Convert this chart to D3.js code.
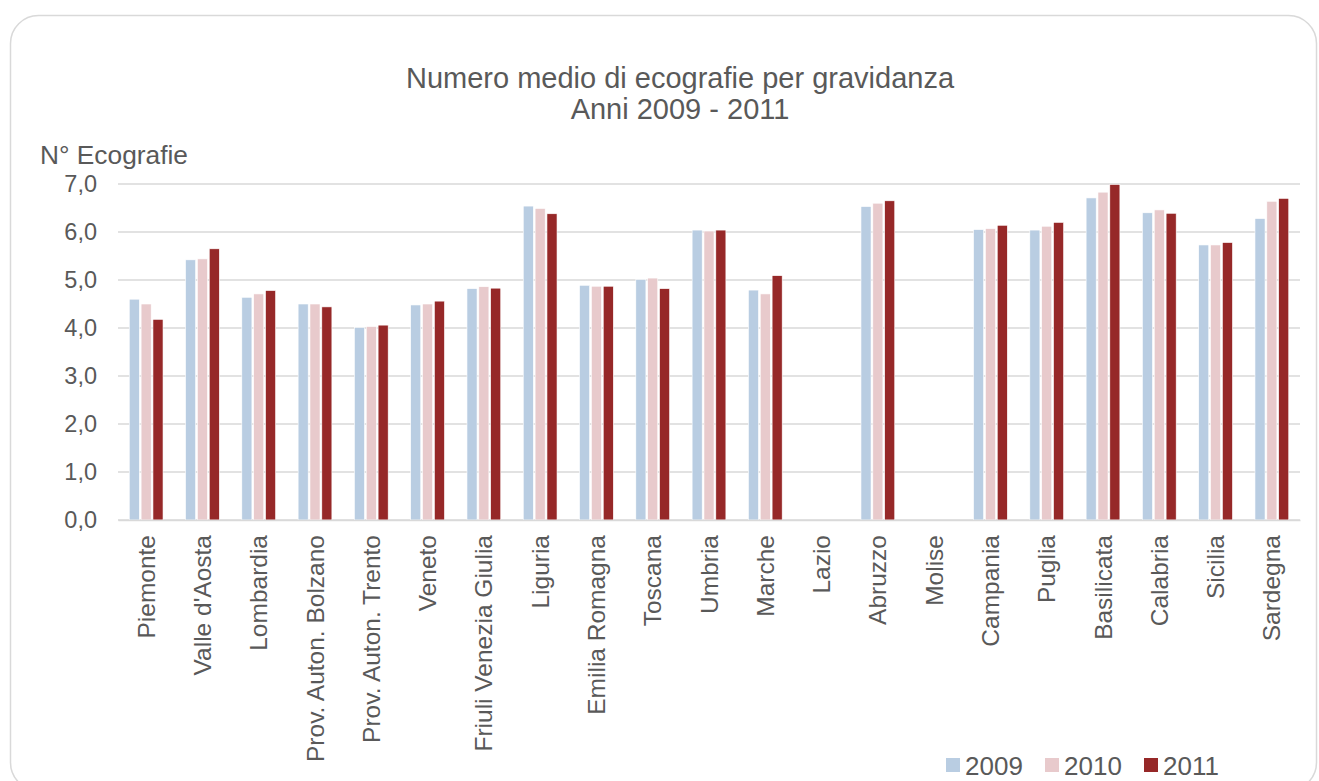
<!DOCTYPE html>
<html>
<head>
<meta charset="utf-8">
<script src="https://cdn.jsdelivr.net/npm/d3@7"></script>
<style>
  body { margin: 0; background: #fff; }
  text { font-family: "Liberation Sans", Arial, sans-serif; fill: #595959; }
</style>
</head>
<body>
<div id="chart"></div>
<script>
var regions = ["Piemonte", "Valle d'Aosta", "Lombardia", "Prov. Auton. Bolzano", "Prov. Auton. Trento",
  "Veneto", "Friuli Venezia Giulia", "Liguria", "Emilia Romagna", "Toscana", "Umbria", "Marche",
  "Lazio", "Abruzzo", "Molise", "Campania", "Puglia", "Basilicata", "Calabria", "Sicilia", "Sardegna"];
var years = ["2009", "2010", "2011"];

var v2009 = [4.60, 5.42, 4.64, 4.50, 4.01, 4.48, 4.82, 6.54, 4.89, 5.01, 6.04, 4.79,
  null, 6.53, null, 6.05, 6.04, 6.71, 6.40, 5.73, 6.28];
var v2010 = [4.50, 5.44, 4.71, 4.50, 4.03, 4.50, 4.86, 6.49, 4.87, 5.04, 6.02, 4.71,
  null, 6.60, null, 6.07, 6.12, 6.83, 6.46, 5.73, 6.64];
var v2011 = [4.18, 5.65, 4.78, 4.44, 4.06, 4.56, 4.83, 6.38, 4.87, 4.82, 6.04, 5.09,
  null, 6.65, null, 6.14, 6.20, 6.99, 6.39, 5.78, 6.70];
var yTicks = [0, 1, 2, 3, 4, 5, 6, 7];

var colors = ["#b9cde2", "#e8cacc", "#962828"];
var series = [v2009, v2010, v2011];

var W = 1319, H = 781;
var margin = {top: 184, right: 19, bottom: 261, left: 118},
    width = W - margin.left - margin.right,
    height = H - margin.top - margin.bottom;

var svg = d3.select("#chart").append("svg")
    .attr("width", W)
    .attr("height", H);

// outer frame
svg.append("rect")
  .attr("x", 10.5).attr("y", 15.5)
  .attr("width", 1306).attr("height", 775)
  .attr("rx", 28)
  .attr("fill", "#fff")
  .attr("stroke", "#d9d9d9")
  .attr("stroke-width", 1.5);

var g = svg.append("g")
  .attr("transform", "translate(" + margin.left + "," + margin.top + ")");

var x0 = d3.scaleBand().domain(regions).range([0, width]).paddingInner(0.4).paddingOuter(0.2);
var x1 = d3.scaleBand().domain(years).range([0, x0.bandwidth()]).paddingInner(0.15);
var y = d3.scaleLinear().domain([0, 7]).range([height, 0]);

var locale = d3.formatLocale({decimal: ",", thousands: ".", grouping: [3], currency: ["", "€"]});
var fmt = locale.format(".1f");

// gridlines
g.selectAll(".grid")
  .data(yTicks)
  .enter().append("line")
  .attr("x1", 0).attr("x2", width)
  .attr("y1", function(d) { return y(d); })
  .attr("y2", function(d) { return y(d); })
  .attr("stroke", "#d9d9d9")
  .attr("stroke-width", 1.5);

// y axis
var yAxis = d3.axisLeft(y).tickValues(yTicks).tickFormat(fmt).tickSize(0).tickPadding(21);
var ya = g.append("g").call(yAxis);
ya.select(".domain").remove();
ya.selectAll("text").style("font-size", "23.5px").attr("fill", "#595959");

// bars
var groups = g.selectAll(".region")
  .data(regions)
  .enter().append("g")
  .attr("transform", function(d) { return "translate(" + x0(d) + ",0)"; });

groups.selectAll("rect")
  .data(function(d, i) {
    return years.map(function(yr, k) { return {year: yr, value: series[k][i], k: k}; })
      .filter(function(e) { return e.value != null; });
  })
  .enter().append("rect")
  .attr("x", function(d) { return x1(d.year); })
  .attr("width", x1.bandwidth())
  .attr("y", function(d) { return y(d.value); })
  .attr("height", function(d) { return height - y(d.value); })
  .attr("fill", function(d) { return colors[d.k]; })
  .attr("stroke", "#fff")
  .attr("stroke-width", 0.6);

// x axis
var xAxis = d3.axisBottom(x0).tickSize(0).tickPadding(0);
var xa = g.append("g").attr("transform", "translate(0," + height + ")").call(xAxis);
xa.select(".domain").attr("stroke", "#d9d9d9").attr("stroke-width", 1.5);
xa.selectAll("text")
  .style("font-size", "24.5px")
  .attr("fill", "#595959")
  .style("text-anchor", "end")
  .attr("transform", "rotate(-90)")
  .attr("x", -15)
  .attr("y", 0)
  .attr("dy", "0.35em");

// title
var title = svg.append("text")
  .attr("x", 680).attr("y", 88)
  .style("text-anchor", "middle")
  .style("font-size", "29px");
title.append("tspan").attr("x", 680).text("Numero medio di ecografie per gravidanza");
title.append("tspan").attr("x", 680).attr("dy", 31).text("Anni 2009 - 2011");

// y label
svg.append("text")
  .attr("x", 40).attr("y", 164)
  .style("font-size", "26.3px")
  .text("N° Ecografie");

// legend
var legend = svg.append("g");
var lx = [946, 1045, 1144];
years.forEach(function(yr, k) {
  legend.append("rect")
    .attr("x", lx[k]).attr("y", 758)
    .attr("width", 14).attr("height", 14)
    .attr("fill", colors[k]);
  legend.append("text")
    .attr("x", lx[k] + 19).attr("y", 775)
    .style("font-size", "26px")
    .text(yr);
});
</script>
</body>
</html>
